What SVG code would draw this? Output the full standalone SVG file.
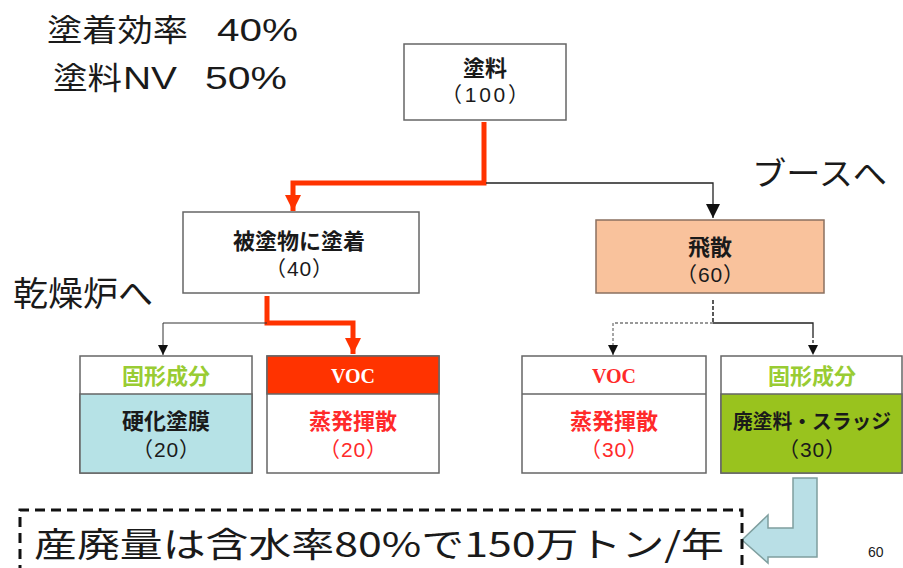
<svg xmlns="http://www.w3.org/2000/svg" width="903" height="568" viewBox="0 0 903 568">
<style>
text{font-family:"Noto Sans CJK JP","Liberation Sans",sans-serif;fill:#1a1a1a}
.box{fill:#fff;stroke:#666;stroke-width:1.5}
.nt{font-size:22px;text-anchor:middle;font-weight:bold}
.np{font-family:"Liberation Sans","Noto Sans CJK JP",sans-serif;font-size:21px;text-anchor:middle}
.hd{font-size:22px;text-anchor:middle;font-weight:bold}
.voc{font-family:"Liberation Serif",serif;font-size:20px;font-weight:bold;text-anchor:middle}
.red{fill:#ff2a2a}
.grn{fill:#99cc33}
.big{font-size:31px}
</style>
<defs>
<marker id="ab" viewBox="0 0 10 10" refX="10" refY="5" markerWidth="10" markerHeight="10" markerUnits="userSpaceOnUse" orient="auto"><path d="M0,0L10,5L0,10z" fill="#111"/></marker>
<marker id="abL" viewBox="0 0 10 10" refX="10" refY="5" markerWidth="14" markerHeight="14" markerUnits="userSpaceOnUse" orient="auto"><path d="M0,0L10,5L0,10z" fill="#111"/></marker>
<marker id="ar" viewBox="0 0 10 10" refX="10" refY="5" markerWidth="16" markerHeight="16" markerUnits="userSpaceOnUse" orient="auto"><path d="M0,0L10,5L0,10z" fill="#ff3300"/></marker>
</defs>

<text class="big" y="41"><tspan x="47" textLength="141" lengthAdjust="spacingAndGlyphs">塗着効率</tspan><tspan x="217" textLength="81" lengthAdjust="spacingAndGlyphs" style="font-family:'Liberation Sans',sans-serif">40%</tspan></text>
<text class="big" y="89"><tspan x="53" textLength="69" lengthAdjust="spacingAndGlyphs">塗料</tspan><tspan x="123" textLength="54" lengthAdjust="spacingAndGlyphs" style="font-family:'Liberation Sans',sans-serif">NV</tspan><tspan x="205" textLength="82" lengthAdjust="spacingAndGlyphs" style="font-family:'Liberation Sans',sans-serif">50%</tspan></text>
<text x="752" y="185" font-size="32" textLength="135" lengthAdjust="spacingAndGlyphs">ブースへ</text>
<text x="13" y="306" font-size="34" textLength="140" lengthAdjust="spacingAndGlyphs">乾燥炉へ</text>

<g id="connectors" fill="none">
<path d="M484,122V183H293V211" stroke="#ff3300" stroke-width="5" marker-end="url(#ar)"/>
<path d="M486,183H713V218" stroke="#222" stroke-width="1.3" marker-end="url(#abL)"/>
<path d="M267,296V323H353V354" stroke="#ff3300" stroke-width="5" marker-end="url(#ar)"/>
<path d="M267,323H163V355" stroke="#333" stroke-width="1" marker-end="url(#ab)"/>
<path d="M713,300V323" stroke="#222" stroke-width="1.5" stroke-dasharray="4,2"/>
<path d="M713,323H613V355" stroke="#777" stroke-width="1.3" stroke-dasharray="3,2" marker-end="url(#ab)"/>
<path d="M713,323H813V335" stroke="#222" stroke-width="1.3"/>
<path d="M813,335V355" stroke="#222" stroke-width="1.3" stroke-dasharray="3,2" marker-end="url(#ab)"/>
<path d="M793,478H817V557H768V563L742,540L768,515V528H793Z" fill="#b9dfe6" stroke="#7f9f9f" stroke-width="1.5"/>
</g>

<g id="paint">
<rect class="box" x="404" y="44" width="162" height="76"/>
<text class="nt" x="485" y="76">塗料</text>
<text class="np" x="485" y="102" textLength="88" lengthAdjust="spacing">（100）</text>
</g>

<g id="adhered">
<rect class="box" x="183" y="212" width="236" height="81"/>
<text class="nt" x="299" y="249">被塗物に塗着</text>
<text class="np" x="299" y="276" textLength="68" lengthAdjust="spacing">（40）</text>
</g>

<g id="scatter">
<rect x="596" y="220" width="228" height="73" fill="#f9c29c" stroke="#8a7060" stroke-width="1.5"/>
<text class="nt" x="710" y="255">飛散</text>
<text class="np" x="710" y="282" textLength="68" lengthAdjust="spacing">（60）</text>
</g>

<g id="solid-left">
<rect class="box" x="80" y="356" width="172" height="117"/>
<rect x="80" y="394" width="172" height="79" fill="#b6e2e6" stroke="#666" stroke-width="1.5"/>
<text class="hd grn" x="166" y="384">固形成分</text>
<text class="hd" x="166" y="429">硬化塗膜</text>
<text class="np" x="166" y="457" textLength="68" lengthAdjust="spacing">（20）</text>
</g>

<g id="voc-left">
<rect class="box" x="267" y="356" width="172" height="117"/>
<rect x="267" y="356" width="172" height="38" fill="#ff3300" stroke="#666" stroke-width="1.5"/>
<text class="voc" x="353" y="383" style="fill:#fff">VOC</text>
<text class="hd red" x="353" y="429">蒸発揮散</text>
<text class="np red" x="353" y="457" textLength="68" lengthAdjust="spacing">（20）</text>
</g>

<g id="voc-right">
<rect class="box" x="522" y="356" width="184" height="117"/>
<line x1="522" y1="394" x2="706" y2="394" stroke="#666" stroke-width="1.5"/>
<text class="voc red" x="614" y="383">VOC</text>
<text class="hd red" x="614" y="429">蒸発揮散</text>
<text class="np red" x="614" y="457" textLength="68" lengthAdjust="spacing">（30）</text>
</g>

<g id="solid-right">
<rect class="box" x="721" y="356" width="181" height="117"/>
<rect x="721" y="394" width="181" height="79" fill="#99c31e" stroke="#666" stroke-width="1.5"/>
<text class="hd grn" x="812" y="384">固形成分</text>
<text x="812" y="429" font-size="20" font-weight="bold" text-anchor="middle" textLength="158" lengthAdjust="spacingAndGlyphs">廃塗料・スラッジ</text>
<text class="np" x="812" y="457" textLength="68" lengthAdjust="spacing">（30）</text>
</g>

<g id="result">
<path d="M20,575V510H742V575" fill="none" stroke="#111" stroke-width="3" stroke-dasharray="10,6"/>
<text x="34" y="557" font-size="34" textLength="690" lengthAdjust="spacingAndGlyphs">産廃量は含水率80%で150万トン/年</text>
</g>

<text x="868" y="557" font-size="14" style="font-family:'Liberation Sans',sans-serif">60</text>
</svg>
